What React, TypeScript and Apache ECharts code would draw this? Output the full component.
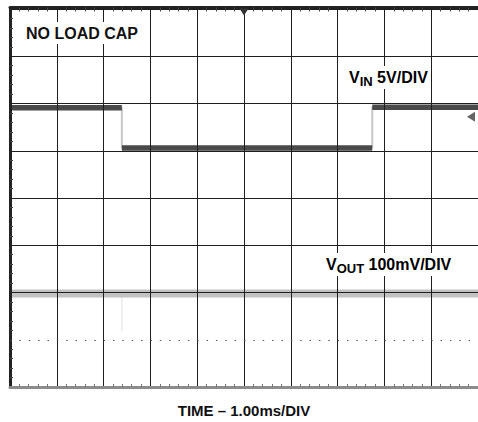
import React, { useEffect, useRef } from 'react';
import * as echarts from 'echarts';

// time in divisions (1.00 ms/DIV), levels in screen divisions (0 = bottom, 8 = top)
const vinTime = [0, 2.39, 2.39, 7.74, 7.74, 10];
const vinLevel = [5.91, 5.91, 5.06, 5.06, 5.92, 5.92];
const voutTime = [0, 10];
const voutLevel = [1.98, 1.98];
const voutSpikeTime = [2.39, 2.39];
const voutSpikeLevel = [1.94, 1.17];
const dottedLevel = [1];
const triggerTime = [5];
const groundLevel = [5.72];

const FONT = 'Arial, "Liberation Sans", Helvetica, sans-serif';

const GRID = '#1e1e1e';
const splitColors = [GRID, 'rgba(0,0,0,0)', GRID, GRID, GRID, GRID, GRID, GRID, GRID];

function buildPlateaus(t: number[], v: number[]) {
  const out: any[] = [];
  for (let i = 0; i < t.length - 1; i++) {
    if (v[i] === v[i + 1]) {
      out.push([t[i], v[i]]);
      out.push([t[i + 1], v[i + 1]]);
      out.push([t[i + 1], '-']);
    }
  }
  return out;
}

export default function App() {
  const ref = useRef<HTMLDivElement>(null);
  useEffect(() => {
    if (!ref.current) return;
    const chart = echarts.init(ref.current, undefined, { renderer: 'svg' });
    const richMain = { fontSize: 16, fontWeight: 'bold', fontFamily: FONT, color: '#111' };
    const richSub = { fontSize: 13, fontWeight: 'bold', fontFamily: FONT, color: '#111', padding: [8, 0, 0, 0] };
    chart.setOption({
      animation: false,
      backgroundColor: '#fff',
      grid: { left: 10, right: 0, top: 9, bottom: 35 },
      xAxis: [
        {
          type: 'value', min: 0, max: 10, interval: 1, position: 'bottom', z: 3,
          axisLine: { show: true, lineStyle: { color: '#8c8c8c', width: 3 } },
          axisTick: { show: false, inside: true },
          minorTick: { show: true, splitNumber: 5, length: 3, lineStyle: { color: '#777', width: 1 } },
          axisLabel: { show: false },
          splitLine: { show: true, lineStyle: { color: GRID, width: 1 } },
        },
        {
          type: 'value', min: 0, max: 10, interval: 1, position: 'top', z: 3, offset: 1.5,
          axisLine: { show: true, lineStyle: { color: '#222', width: 3 } },
          axisTick: { show: false, inside: true },
          minorTick: { show: true, splitNumber: 5, length: 4, lineStyle: { color: '#444', width: 1 } },
          axisLabel: { show: false },
          splitLine: { show: false },
        },
      ],
      yAxis: [
        {
          type: 'value', min: 0, max: 8, interval: 1, position: 'left', z: 3, offset: 1.5,
          axisLine: { show: true, lineStyle: { color: '#222', width: 3 } },
          axisTick: { show: false, inside: true },
          minorTick: { show: true, splitNumber: 5, length: 3, lineStyle: { color: '#444', width: 1 } },
          axisLabel: { show: false },
          splitLine: { show: true, lineStyle: { color: splitColors, width: 1 } },
        },
      ],
      series: [
        {
          type: 'line', name: 'VIN edges', symbol: 'none', z: 1,
          data: vinTime.map((t, i) => [t, vinLevel[i]]),
          lineStyle: { color: '#c8c8c8', width: 2 },
        },
        {
          type: 'line', name: 'VIN', symbol: 'none', z: 2, connectNulls: false,
          data: buildPlateaus(vinTime, vinLevel),
          lineStyle: { color: '#4a4a4a', width: 5.5 },
          markPoint: {
            silent: true,
            label: { show: false },
            data: [
              { coord: [triggerTime[0], 8], symbol: 'triangle', symbolRotate: 180, symbolSize: [9, 7], symbolOffset: [0, 3], itemStyle: { color: '#333' } },
              { coord: [10, groundLevel[0]], symbol: 'triangle', symbolRotate: 90, symbolSize: [10, 8], symbolOffset: [-7, 0], itemStyle: { color: '#666' } },
            ],
          },
        },
        {
          type: 'line', name: 'VOUT spike', symbol: 'none', z: 1,
          data: voutSpikeTime.map((t, i) => [t, voutSpikeLevel[i]]),
          lineStyle: { color: '#e0e0e0', width: 1 },
        },
        {
          type: 'line', name: 'VOUT', symbol: 'none', z: 2,
          data: voutTime.map((t, i) => [t, voutLevel[i]]),
          lineStyle: { color: '#c2c2c2', width: 8 },
          markLine: {
            silent: true,
            symbol: ['none', 'none'],
            label: { show: false },
            lineStyle: { type: [1.5, 7.86], color: '#555', width: 1 },
            data: dottedLevel.map((y) => ({ yAxis: y })),
          },
        },
      ],
      graphic: [
        {
          type: 'text', x: 23, y: 33, z: 100,
          style: {
            text: 'NO LOAD CAP', font: `bold 16px ${FONT}`, fill: '#111',
            align: 'left', verticalAlign: 'middle', textAlign: 'left', textVerticalAlign: 'middle',
            backgroundColor: '#fff', padding: [3, 3],
          },
        },
        {
          type: 'text', x: 346, y: 77.5, z: 100,
          style: {
            text: '{m|V}{s|IN}{m| 5V/DIV}', rich: { m: richMain, s: richSub },
            align: 'left', verticalAlign: 'middle', textAlign: 'left', textVerticalAlign: 'middle',
            backgroundColor: '#fff', padding: [1, 3],
          },
        },
        {
          type: 'text', x: 323, y: 264.5, z: 100,
          style: {
            text: '{m|V}{s|OUT}{m| 100mV/DIV}', rich: { m: richMain, s: richSub },
            align: 'left', verticalAlign: 'middle', textAlign: 'left', textVerticalAlign: 'middle',
            backgroundColor: '#fff', padding: [1, 3],
          },
        },
        {
          type: 'text', x: 244, y: 410.5, z: 100,
          style: {
            text: 'TIME – 1.00ms/DIV', font: `bold 15px ${FONT}`, fill: '#111',
            align: 'center', verticalAlign: 'middle', textAlign: 'center', textVerticalAlign: 'middle',
          },
        },
      ],
    });
    return () => chart.dispose();
  }, []);
  return (
    <div
      ref={ref}
      style={{ position: 'absolute', left: 0, top: 0, width: 478, height: 422, background: '#fff' }}
    />
  );
}
